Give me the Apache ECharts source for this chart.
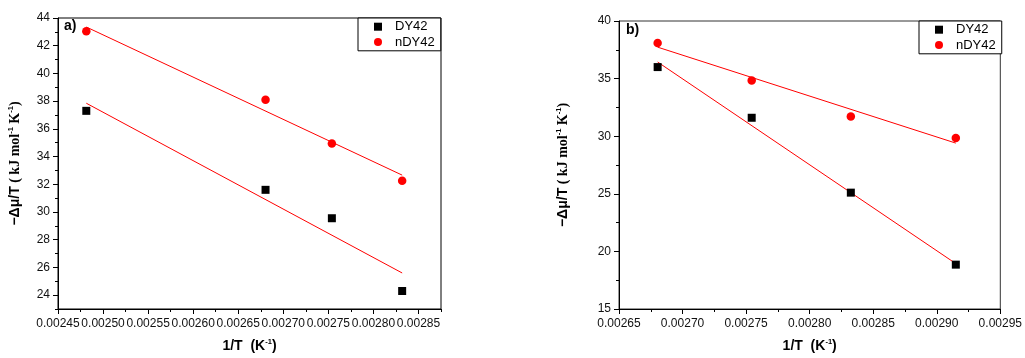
<!DOCTYPE html>
<html>
<head>
<meta charset="utf-8">
<script src="https://cdn.jsdelivr.net/npm/echarts@6/dist/echarts.min.js"></script>
<style>html,body{margin:0;padding:0;background:#fff}#c{width:1025px;height:358px}</style>
</head>
<body>
<div id="c"></div>
<script>
// ---- Panel a) data ----
const xA = [0.0024814, 0.0026803, 0.0027539, 0.0028319];
const dyA = [37.3, 31.6, 29.55, 24.3];
const ndyA = [43.05, 38.1, 34.95, 32.25];
const fitXA = [0.0024814, 0.0028319];
const fitDyA = [37.85, 25.6];
const fitNdyA = [43.35, 32.66];
// ---- Panel b) data ----
const xB = [0.0026804, 0.0027544, 0.0028324, 0.002915];
const dyB = [36.0, 31.6, 25.1, 18.85];
const ndyB = [38.1, 34.83, 31.7, 29.85];
const fitXB = [0.0026804, 0.002915];
const fitDyB = [36.44, 18.94];
const fitNdyB = [37.73, 29.4];
// ---- tick labels ----
const xTicksA = [0.00245, 0.0025, 0.00255, 0.0026, 0.00265, 0.0027, 0.00275, 0.0028, 0.00285];
const xMinorA = [0.002475, 0.002525, 0.002575, 0.002625, 0.002675, 0.002725, 0.002775, 0.002825, 0.002875];
const yTicksA = [24, 26, 28, 30, 32, 34, 36, 38, 40, 42, 44];
const yMinorA = [23, 25, 27, 29, 31, 33, 35, 37, 39, 41, 43];
const xTicksB = [0.00265, 0.0027, 0.00275, 0.0028, 0.00285, 0.0029, 0.00295];
const xMinorB = [0.002675, 0.002725, 0.002775, 0.002825, 0.002875, 0.002925];
const yTicksB = [15, 20, 25, 30, 35, 40];
const yMinorB = [17.5, 22.5, 27.5, 32.5, 37.5];
const seriesNames = ['DY42', 'nDY42'];

const SANS = 'Liberation Sans, Arial, sans-serif';
const SERIF = 'Liberation Serif, Times New Roman, serif';
const pairs = (xs, ys) => xs.map((x, i) => [x, ys[i]]);

const labelStyle = { color: '#111', fontFamily: SANS, fontSize: 12 };
const xName = '{b|1/T  (K}{s|-1}{b|)}';
const yName = '{a|\u2212\u0394\u03bc/T}{c| ( kJ mol}{s|-1}{c| K}{s|-1}{c|)}';
const nameRich = {
  b: { fontFamily: SANS, fontWeight: 'bold', fontSize: 14, lineHeight: 16, color: '#000' },
  a: { fontFamily: SANS, fontWeight: 'bold', fontSize: 14, lineHeight: 16, color: '#000' },
  c: { fontFamily: SERIF, fontWeight: 'bold', fontSize: 14, lineHeight: 16, color: '#000' },
  s: { fontFamily: SANS, fontWeight: 'bold', fontSize: 7.5, lineHeight: 16, verticalAlign: 'top', color: '#000', padding: [0, 0, 6, 0] }
};

function mainX(grid, min, max, ticks, nameGap) {
  return {
    type: 'value', gridIndex: grid, min: min, max: max, position: 'bottom',
    name: xName, nameLocation: 'middle', nameGap: nameGap,
    nameTextStyle: { rich: nameRich },
    axisLine: { show: true, onZero: false, lineStyle: { color: '#000', width: 1 } },
    axisTick: { show: true, inside: false, length: 5, customValues: ticks, lineStyle: { color: '#000' } },
    axisLabel: { show: true, margin: 9, customValues: ticks, formatter: v => v.toFixed(5), ...labelStyle, showMinLabel: true, showMaxLabel: true },
    splitLine: { show: false }
  };
}
function minorX(grid, min, max, ticks) {
  return {
    type: 'value', gridIndex: grid, min: min, max: max, position: 'bottom',
    axisLine: { show: false, onZero: false },
    axisTick: { show: true, inside: false, length: 3, customValues: ticks, lineStyle: { color: '#000' } },
    axisLabel: { show: false }, splitLine: { show: false }
  };
}
function mainY(grid, min, max, ticks, nameGap) {
  return {
    type: 'value', gridIndex: grid, min: min, max: max, position: 'left',
    name: yName, nameLocation: 'middle', nameGap: nameGap,
    nameTextStyle: { rich: nameRich },
    axisLine: { show: true, onZero: false, lineStyle: { color: '#000', width: 1 } },
    axisTick: { show: true, inside: false, length: 5, customValues: ticks, lineStyle: { color: '#000' } },
    axisLabel: { show: true, margin: 8, customValues: ticks, ...labelStyle },
    splitLine: { show: false }
  };
}
function minorY(grid, min, max, ticks) {
  return {
    type: 'value', gridIndex: grid, min: min, max: max, position: 'left',
    axisLine: { show: false, onZero: false },
    axisTick: { show: true, inside: false, length: 3, customValues: ticks, lineStyle: { color: '#000' } },
    axisLabel: { show: false }, splitLine: { show: false }
  };
}
function scatter(name, xi, yi, xs, ys, symbol, size, color) {
  return { type: 'scatter', name: name, xAxisIndex: xi, yAxisIndex: yi, data: pairs(xs, ys),
    symbol: symbol, symbolSize: size, symbolKeepAspect: true, itemStyle: { color: color, opacity: 1 }, silent: true, z: 3 };
}
function fit(name, xi, yi, xs, ys) {
  return { type: 'line', name: name, xAxisIndex: xi, yAxisIndex: yi, data: pairs(xs, ys),
    showSymbol: false, symbol: 'none', lineStyle: { color: '#ff0000', width: 1 }, silent: true, z: 2 };
}
function legend(left, top) {
  return {
    data: [
      { name: seriesNames[0], icon: 'rect', itemStyle: { color: '#000' } },
      { name: seriesNames[1], icon: 'circle', itemStyle: { color: '#ff0000' } }
    ],
    orient: 'vertical', left: left, top: top, selectedMode: false,
    borderColor: '#000', borderWidth: 1, borderRadius: 0, backgroundColor: '#fff',
    padding: [1, 6, 1, 16], itemGap: 0, itemWidth: 8, itemHeight: 8,
    textStyle: { fontFamily: SANS, fontSize: 13, color: '#000', lineHeight: 15.4, padding: [0, 0, 0, 8] }
  };
}

const chart = echarts.init(document.getElementById('c'), null, { renderer: 'canvas' });
chart.setOption({
  animation: false,
  backgroundColor: '#fff',
  title: [
    { text: 'a)', left: 64, top: 19, padding: 0, textStyle: { fontFamily: SANS, fontWeight: 'bold', fontSize: 14, color: '#000' } },
    { text: 'b)', left: 626, top: 23, padding: 0, textStyle: { fontFamily: SANS, fontWeight: 'bold', fontSize: 14, color: '#000' } }
  ],
  legend: [legend(358, 18), legend(919, 21)],
  grid: [
    { left: 58, right: 584, top: 18, bottom: 47, show: true, borderColor: '#000', borderWidth: 1, backgroundColor: 'transparent' },
    { left: 619, right: 24, top: 21, bottom: 47, show: true, borderColor: '#333', borderWidth: 1, backgroundColor: 'transparent' }
  ],
  xAxis: [
    mainX(0, 0.00245, 0.002875, xTicksA, 29),
    minorX(0, 0.00245, 0.002875, xMinorA),
    mainX(1, 0.00265, 0.00295, xTicksB, 29),
    minorX(1, 0.00265, 0.00295, xMinorB)
  ],
  yAxis: [
    mainY(0, 23, 44, yTicksA, 35),
    minorY(0, 23, 44, yMinorA),
    mainY(1, 15, 40, yTicksB, 48),
    minorY(1, 15, 40, yMinorB)
  ],
  series: [
    fit('fitDY42a', 0, 0, fitXA, fitDyA),
    fit('fitnDY42a', 0, 0, fitXA, fitNdyA),
    scatter('DY42', 0, 0, xA, dyA, 'rect', 8, '#000'),
    scatter('nDY42', 0, 0, xA, ndyA, 'circle', 8.5, '#ff0000'),
    fit('fitDY42b', 2, 2, fitXB, fitDyB),
    fit('fitnDY42b', 2, 2, fitXB, fitNdyB),
    scatter('DY42', 2, 2, xB, dyB, 'rect', 8, '#000'),
    scatter('nDY42', 2, 2, xB, ndyB, 'circle', 8.5, '#ff0000')
  ]
});
</script>
</body>
</html>
